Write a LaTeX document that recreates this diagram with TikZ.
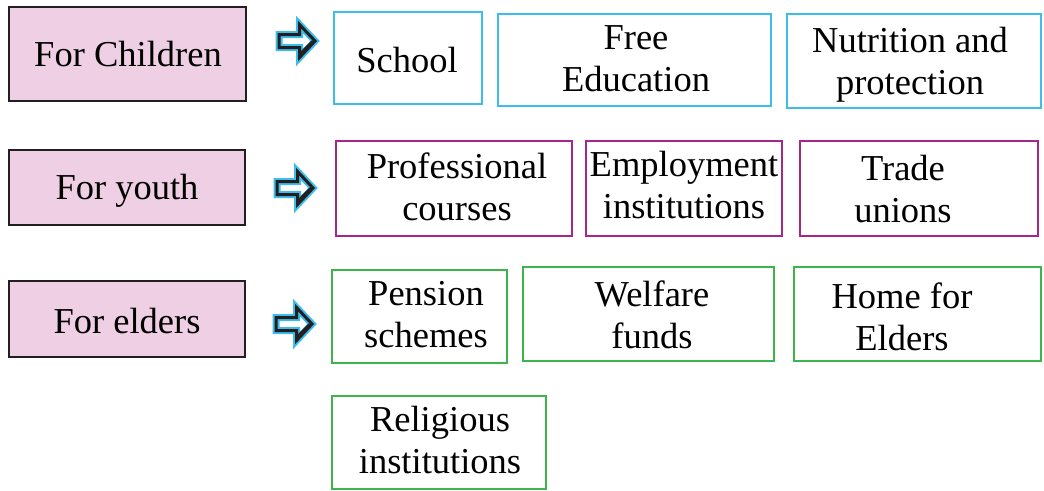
\documentclass[tikz,border=0pt]{standalone}
\usepackage{fontspec}
\setmainfont{Liberation Serif}
\definecolor{pinkfill}{HTML}{EFCFE3}
\definecolor{darkline}{HTML}{231F20}
\definecolor{cyanline}{HTML}{3DBDEB}
\definecolor{magline}{HTML}{A6268E}
\definecolor{greenline}{HTML}{3DB54A}
\tikzset{
  every node/.style={font=\fontsize{36.5}{42}\selectfont, align=center, inner sep=0pt},
  leftbox/.style={draw=darkline, line width=2.2pt, fill=pinkfill},
  cbox/.style={draw=cyanline, line width=1.6pt},
  mbox/.style={draw=magline, line width=1.6pt},
  gbox/.style={draw=greenline, line width=1.6pt},
  fatarrow/.pic={
    \path[fill=white]
      (-19,-6.5) -- (1.5,-6.5) -- (1.5,-16.5) -- (17,0) -- (1.5,16.5) -- (1.5,6.5) -- (-19,6.5) -- cycle;
    \path[draw=cyanline, line width=7pt, line join=miter]
      (-19,-6.5) -- (1.5,-6.5) -- (1.5,-16.5) -- (17,0) -- (1.5,16.5) -- (1.5,6.5) -- (-19,6.5) -- cycle;
    \path[draw=darkline, line width=3pt, line join=miter]
      (-19,-6.5) -- (1.5,-6.5) -- (1.5,-16.5) -- (17,0) -- (1.5,16.5) -- (1.5,6.5) -- (-19,6.5) -- cycle;
    \path[draw=darkline, line width=2pt] (2.5,12) -- (14.5,0);
  }
}
\begin{document}
\begin{tikzpicture}[x=1pt, y=-1pt]
\useasboundingbox (0,0) rectangle (1044,490);
% left boxes
\node[leftbox, minimum width=237pt, minimum height=94pt] (children) at (127.5,54) {};
\node (childrent) at (128,54) {For Children};
\node[leftbox, minimum width=236pt, minimum height=75pt] (youth) at (127,187.5) {};
\node (youtht) at (127,191) {For youth};
\node[leftbox, minimum width=236pt, minimum height=76pt] (elders) at (127,319) {};
\node (elderst) at (127,321) {For elders};
% arrows
\pic at (298,41) {fatarrow};
\pic at (296,188) {fatarrow};
\pic at (295,324) {fatarrow};
% row 1
\node[cbox, minimum width=148pt, minimum height=92pt] (school) at (408,58) {};
\node (schoolt) at (407,60) {School};
\node[cbox, minimum width=273pt, minimum height=92pt] (free) at (634.5,60) {};
\node (freet) at (636,58.5) {Free\\Education};
\node[cbox, minimum width=254pt, minimum height=94pt] (nutrition) at (914,61) {};
\node (nutritiont) at (910,64.5) {Nutrition and\\protection};
% row 2
\node[mbox, minimum width=236pt, minimum height=95pt] (prof) at (454,188.5) {};
\node (proft) at (457,187) {Professional\\courses};
\node[mbox, minimum width=196pt, minimum height=95pt] (employ) at (684,188.5) {};
\node (employt) at (684,185) {Employment\\institutions};
\node[mbox, minimum width=238pt, minimum height=95pt] (trade) at (919,188.5) {};
\node (tradet) at (903,189.5) {Trade\\unions};
% row 3
\node[gbox, minimum width=175pt, minimum height=93pt] (pension) at (419.5,316.5) {};
\node (pensiont) at (426,314.5) {Pension\\schemes};
\node[gbox, minimum width=251pt, minimum height=94pt] (welfare) at (648.5,314) {};
\node (welfaret) at (652,315) {Welfare\\funds};
\node[gbox, minimum width=247pt, minimum height=94pt] (home) at (917.5,314) {};
\node (homet) at (902,317) {Home for\\Elders};
\node[gbox, minimum width=214pt, minimum height=93pt] (religious) at (439,442.5) {};
\node (religioust) at (440,440) {Religious\\institutions};
\end{tikzpicture}
\end{document}
